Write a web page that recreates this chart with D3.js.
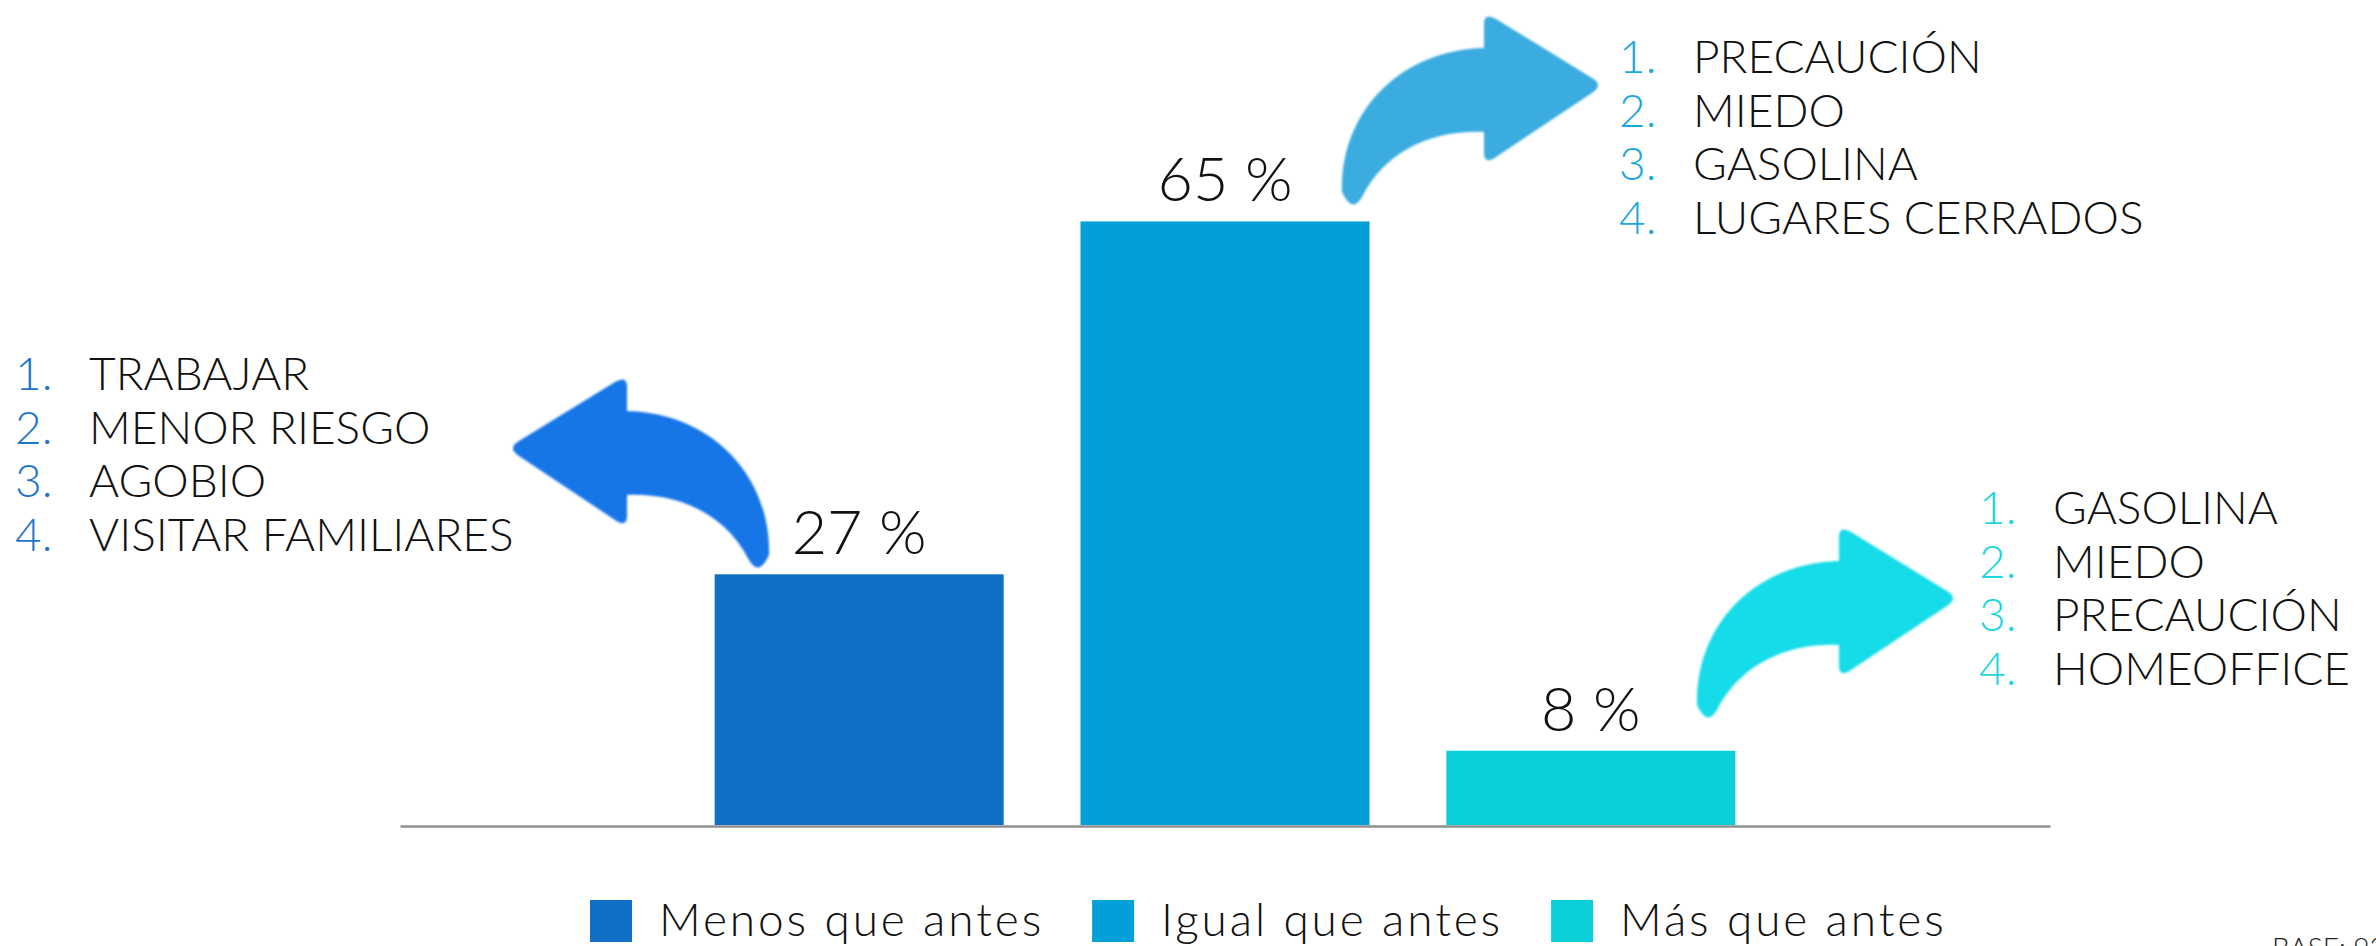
<!DOCTYPE html>
<html>
<head>
<meta charset="utf-8">
<script src="https://cdn.jsdelivr.net/npm/d3@7"></script>
<style>
  html, body { margin: 0; padding: 0; background: #ffffff; }
  svg { display: block; }
  text { font-family: Lato, "Open Sans", sans-serif; font-weight: 300; }
</style>
</head>
<body>
<svg id="chart" width="2376" height="946"></svg>
<script>
// Frequency of going out compared with before
const categories = ["Menos que antes", "Igual que antes", "Más que antes"];
const values = [27, 65, 8];
const barColors = ["#1070c5", "#039fd8", "#0cd0d9"];
const arrowColors = ["#1876e8", "#3aace0", "#16dbe8"];
const numberColors = ["#1f74cc", "#1ea6e0", "#1ed6e0"];

// Top four reasons given for each answer
const reasonsMenos = ["TRABAJAR", "MENOR RIESGO", "AGOBIO", "VISITAR FAMILIARES"];
const reasonsIgual = ["PRECAUCIÓN", "MIEDO", "GASOLINA", "LUGARES CERRADOS"];
const reasonsMas = ["GASOLINA", "MIEDO", "PRECAUCIÓN", "HOMEOFFICE"];

const baseNote = "BASE: 93";

const svg = d3.select("#chart");

const x = d3.scaleBand()
  .domain(categories)
  .range([400, 2050])
  .paddingInner(0.21)
  .paddingOuter(0.86);

const y = d3.scaleLinear()
  .domain([0, 70])
  .range([825, 175]);

// Bars
svg.append("g")
  .selectAll("rect")
  .data(values)
  .join("rect")
  .attr("x", (d, i) => x(categories[i]))
  .attr("y", d => y(d))
  .attr("width", x.bandwidth())
  .attr("height", d => y(0) - y(d))
  .attr("fill", (d, i) => barColors[i]);

// Baseline axis
const axis = svg.append("g")
  .attr("transform", `translate(0,${y(0) + 1})`)
  .call(d3.axisBottom(x).tickSize(0).tickSizeOuter(0).tickFormat(""));
axis.select(".domain").attr("stroke", "#8f8f8f").attr("stroke-width", 2.5);
axis.selectAll(".tick").remove();

// Value labels
svg.append("g")
  .selectAll("text")
  .data(values)
  .join("text")
  .attr("x", (d, i) => x(categories[i]) + x.bandwidth() / 2)
  .attr("y", d => y(d) - 20)
  .attr("text-anchor", "middle")
  .attr("font-size", 61)
  .attr("fill", "#111")
  .text(d => `${d} %`);

// Curved arrow icon, drawn pointing right with the tail at lower left
const arrowPath =
  "M2,180 C0,100 60,38 144,36 L144,12 Q144,0 156,7 L252,66 Q264,73 252,81 " +
  "L156,145 Q144,153 144,141 L144,120 C90,118 45,140 22,185 Q12,202 2,180 Z";

const defs = svg.append("defs");
defs.append("filter").attr("id", "soft")
  .append("feGaussianBlur").attr("stdDeviation", 0.9);

const arrows = [
  { transform: "translate(771,375) scale(-1,1)", color: arrowColors[0] },
  { transform: "translate(1340,12)", color: arrowColors[1] },
  { transform: "translate(1695,525)", color: arrowColors[2] }
];

svg.append("g")
  .selectAll("path")
  .data(arrows)
  .join("path")
  .attr("d", arrowPath)
  .attr("transform", d => d.transform)
  .attr("fill", d => d.color)
  .attr("filter", "url(#soft)");

// Numbered reason lists
function drawList(items, textX, firstBaseline, color) {
  const g = svg.append("g");
  const step = 53.5;
  items.forEach((item, i) => {
    g.append("text")
      .attr("x", textX - 74)
      .attr("y", firstBaseline + i * step)
      .attr("font-size", 46)
      .attr("fill", color)
      .text(`${i + 1}.`);
    g.append("text")
      .attr("x", textX)
      .attr("y", firstBaseline + i * step)
      .attr("font-size", 46)
      .attr("fill", "#111")
      .text(item);
  });
}
drawList(reasonsMenos, 89, 390, numberColors[0]);
drawList(reasonsIgual, 1693, 73, numberColors[1]);
drawList(reasonsMas, 2053, 524, numberColors[2]);

// Legend
const legend = svg.append("g");
let lx = 590;
categories.forEach((c, i) => {
  legend.append("rect")
    .attr("x", lx).attr("y", 900)
    .attr("width", 42).attr("height", 42)
    .attr("fill", barColors[i]);
  const t = legend.append("text")
    .attr("x", lx + 69).attr("y", 936)
    .attr("font-size", 46)
    .attr("letter-spacing", 2.9)
    .attr("fill", "#111")
    .text(c);
  lx += 69 + t.node().getComputedTextLength() + 48;
});

// Sample size note
svg.append("text")
  .attr("x", 2272).attr("y", 958)
  .attr("font-size", 28)
  .attr("fill", "#222")
  .text(baseNote);
</script>
</body>
</html>
